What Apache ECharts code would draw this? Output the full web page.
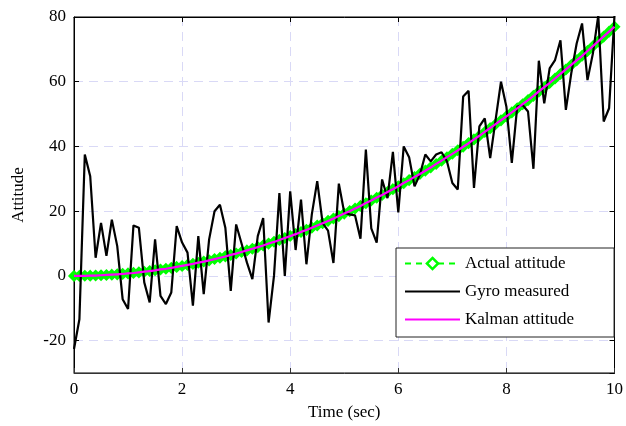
<!DOCTYPE html>
<html><head><meta charset="utf-8">
<script src="https://cdn.jsdelivr.net/npm/echarts@6/dist/echarts.min.js"></script>
<style>html,body{margin:0;padding:0;background:#fff}#c{width:626px;height:426px}</style>
</head><body><div id="c"></div>
<script>
const time = [0,0.1,0.2,0.3,0.4,0.5,0.6,0.7,0.8,0.9,1,1.1,1.2,1.3,1.4,1.5,1.6,1.7,1.8,1.9,2,2.1,2.2,2.3,2.4,2.5,2.6,2.7,2.8,2.9,3,3.1,3.2,3.3,3.4,3.5,3.6,3.7,3.8,3.9,4,4.1,4.2,4.3,4.4,4.5,4.6,4.7,4.8,4.9,5,5.1,5.2,5.3,5.4,5.5,5.6,5.7,5.8,5.9,6,6.1,6.2,6.3,6.4,6.5,6.6,6.7,6.8,6.9,7,7.1,7.2,7.3,7.4,7.5,7.6,7.7,7.8,7.9,8,8.1,8.2,8.3,8.4,8.5,8.6,8.7,8.8,8.9,9,9.1,9.2,9.3,9.4,9.5,9.6,9.7,9.8,9.9,10];
const actualAttitude = [0,0.01,0.03,0.07,0.12,0.19,0.28,0.38,0.49,0.62,0.77,0.93,1.11,1.30,1.51,1.73,1.97,2.23,2.49,2.78,3.08,3.40,3.73,4.07,4.44,4.81,5.21,5.61,6.04,6.48,6.93,7.40,7.88,8.39,8.90,9.43,9.98,10.54,11.12,11.71,12.32,12.94,13.58,14.24,14.91,15.59,16.29,17.01,17.74,18.49,19.25,20.03,20.82,21.63,22.45,23.29,24.15,25.02,25.90,26.80,27.72,28.65,29.60,30.56,31.54,32.53,33.54,34.57,35.60,36.66,37.73,38.82,39.92,41.03,42.17,43.31,44.48,45.65,46.85,48.06,49.28,50.52,51.77,53.05,54.33,55.63,56.95,58.28,59.63,60.99,62.37,63.76,65.17,66.60,68.04,69.49,70.96,72.45,73.95,75.47,77.00];
const gyroMeasured = [-22.6,-13.4,37.5,30.8,5.6,16.4,6.2,17.4,9.2,-7.2,-10.2,15.6,14.9,-2.0,-8.2,11.3,-6.2,-8.7,-5.1,15.4,10.3,7.2,-9.2,12.3,-5.6,11.3,20,22,14.9,-4.6,15.9,10,4.1,-1.0,12.3,17.9,-14.4,0,25.6,0,26.1,8,23.6,3.6,19,29.3,16.3,14,4,28.5,19.5,19,18.7,11.5,39,14.7,10.3,29.8,24,38.3,19.6,40,36.7,27.7,31.3,37.5,35.4,37.5,38.2,35.4,28.7,26.7,55.4,57.2,27.2,46.2,48.7,36.4,48.2,60,52.3,34.9,52.3,52.8,50.8,33.1,66.5,53.3,64.1,66.7,72.8,51.3,62.6,71.8,78,60.5,68.7,80.5,47.7,51.8,80.5];
const kalmanAttitude = [0,0,0,0.1,0.1,0.2,0.3,0.4,0.5,0.6,0.8,0.9,1.1,1.3,1.5,1.7,2.0,2.2,2.5,2.8,3.1,3.4,3.7,4.1,4.4,4.8,5.2,5.6,6.0,6.5,6.9,7.4,7.9,8.4,8.9,9.4,10.0,10.5,11.1,11.7,12.3,12.9,13.6,14.2,14.9,15.6,16.3,17.0,17.7,18.5,19.3,20.0,20.8,21.6,22.5,23.3,24.2,25.0,25.9,26.8,27.7,28.7,29.6,30.6,31.5,32.5,33.5,34.6,35.6,36.7,37.7,38.8,39.9,41.0,42.2,43.3,44.5,45.7,46.9,48.1,49.3,50.5,51.8,53.1,54.3,55.6,57.0,58.3,59.6,61.0,62.4,63.8,65.2,66.6,68.0,69.5,71.0,72.5,74.0,75.5,77.0];
const seriesNames = ['Actual attitude','Gyro measured','Kalman attitude'];
const xTickValues = [0,2,4,6,8,10];
const yTickValues = [-20,0,20,40,60,80];

const pairs = (ys) => time.map((t, i) => [t, ys[i]]);
const FONT = 'Liberation Serif';
const gridLine = {show: true, lineStyle: {color: '#d9d9f6', type: [9, 6], width: 1}};

const chart = echarts.init(document.getElementById('c'), null, {renderer: 'canvas'});
chart.setOption({
  animation: false,
  backgroundColor: '#fff',
  grid: {left: 74, right: 6, top: 17, bottom: 52, show: true, borderColor: '#000', borderWidth: 1, backgroundColor: 'transparent'},
  xAxis: [{
    type: 'value', min: 0, max: 10, interval: 2,
    name: 'Time (sec)', nameLocation: 'middle', nameGap: 31,
    nameTextStyle: {fontFamily: FONT, fontSize: 17, color: '#000'},
    axisLine: {show: true, onZero: false, lineStyle: {color: '#333', width: 1}},
    axisTick: {show: true, inside: true, length: 5, lineStyle: {color: '#333'}},
    axisLabel: {fontFamily: FONT, fontSize: 17, color: '#000', margin: 8,
      formatter: (v) => xTickValues.includes(v) ? String(v) : ''},
    splitLine: gridLine
  }, {
    type: 'value', min: 0, max: 10, interval: 2, position: 'top',
    axisLine: {show: true, onZero: false, lineStyle: {color: '#000'}},
    axisTick: {show: true, inside: true, length: 5, lineStyle: {color: '#000'}},
    axisLabel: {show: false}, splitLine: {show: false}
  }],
  yAxis: [{
    type: 'value', min: -30, max: 80, splitNumber: 5,
    name: 'Attitude', nameLocation: 'middle', nameGap: 47, nameRotate: 90,
    nameTextStyle: {fontFamily: FONT, fontSize: 17, color: '#000'},
    axisLine: {show: true, onZero: false, lineStyle: {color: '#000', width: 1}},
    axisTick: {show: true, inside: true, length: 5, lineStyle: {color: '#000'}},
    axisLabel: {fontFamily: FONT, fontSize: 17, color: '#000', margin: 8, showMinLabel: false,
      formatter: (v) => yTickValues.includes(v) ? String(v) : ''},
    splitLine: gridLine
  }, {
    type: 'value', min: -30, max: 80, splitNumber: 5, position: 'right',
    axisLine: {show: true, onZero: false, lineStyle: {color: '#000'}},
    axisTick: {show: true, inside: true, length: 5, lineStyle: {color: '#000'}},
    axisLabel: {show: false}, splitLine: {show: false}
  }],
  legend: {
    orient: 'vertical', left: 396, top: 248,
    backgroundColor: '#fff', borderColor: '#222', borderWidth: 1,
    padding: [7, 40, 9, 8], itemGap: 11, itemWidth: 55, itemHeight: 14,
    textStyle: {fontFamily: FONT, fontSize: 17, color: '#000'},
    data: [
      {name: seriesNames[0], itemStyle: {color: '#fff', borderColor: '#00ff00', borderWidth: 2.5}},
      {name: seriesNames[1], itemStyle: {opacity: 0}},
      {name: seriesNames[2], itemStyle: {opacity: 0}}
    ]
  },
  series: [{
    name: seriesNames[0], type: 'line', data: pairs(actualAttitude),
    symbol: 'diamond', symbolSize: 10, showSymbol: true, showAllSymbol: true,
    lineStyle: {color: '#00ff00', width: 2, type: [6, 5]},
    itemStyle: {color: '#00ff00', borderColor: '#00ff00', borderWidth: 1.5},
    z: 2
  }, {
    name: seriesNames[1], type: 'line', data: pairs(gyroMeasured),
    symbol: 'none', lineStyle: {color: '#000', width: 2.2}, itemStyle: {color: '#000'},
    clip: true, z: 3
  }, {
    name: seriesNames[2], type: 'line', data: pairs(kalmanAttitude),
    symbol: 'none', lineStyle: {color: '#ff00ff', width: 2.2}, itemStyle: {color: '#ff00ff'},
    z: 4
  }]
});
</script></body></html>
